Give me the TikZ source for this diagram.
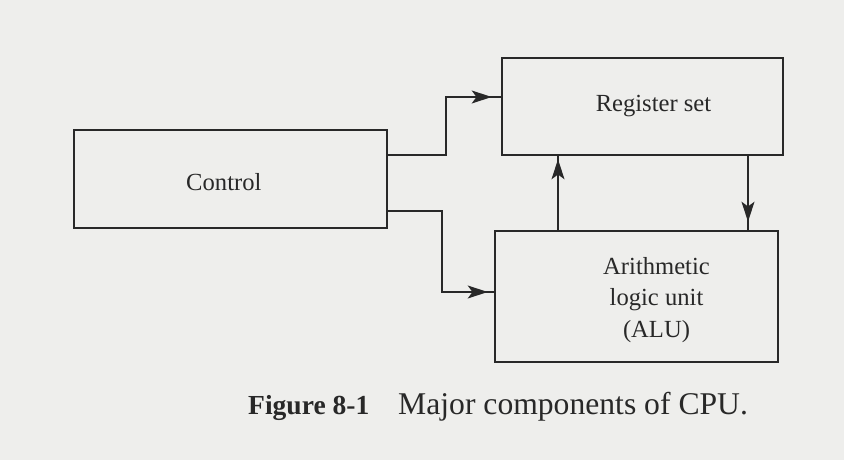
\documentclass[tikz,border=0pt]{standalone}
\usepackage{fontspec}
\setmainfont{Liberation Serif}
\usetikzlibrary{arrows.meta,decorations.markings}
\definecolor{paper}{RGB}{238,238,236}
\definecolor{ink}{RGB}{40,40,40}
\tikzset{
  box/.style={draw=ink, line width=2.2pt, rectangle, inner sep=0pt},
  boxtext/.style={align=center, font=\fontsize{21}{27}\selectfont, text=ink, inner sep=0pt},
  conn/.style={draw=ink, line width=1.9pt},
  arrowat/.style={postaction={decorate}, decoration={markings,
    mark=at position #1 with {\arrow{Stealth[length=17pt,width=11pt,inset=4pt]}}}}
}
\begin{document}
\begin{tikzpicture}[x=0.03cm,y=-0.03cm]
\useasboundingbox[fill=paper] (0,0) rectangle (844,460);
\node[box, minimum width=9.39cm, minimum height=2.94cm,
  label={[boxtext, xshift=-0.2cm, yshift=-0.08cm]center:Control}] (ctrl) at (230.5,179) {};
\node[box, minimum width=8.43cm, minimum height=2.91cm,
  label={[boxtext, xshift=0.33cm]center:Register set}] (reg) at (642.5,106.5) {};
\node[box, minimum width=8.49cm, minimum height=3.93cm,
  label={[boxtext, xshift=0.6cm, yshift=-0.1cm]center:Arithmetic\\logic unit\\(ALU)}] (alu) at (636.5,296.5) {};
\draw[conn, arrowat=-0.27cm] ([yshift=0.72cm]ctrl.east) -- ++(58,0) |- ([yshift=0.285cm]reg.west);
\draw[conn, arrowat=-0.18cm] ([yshift=-0.96cm]ctrl.east) -- ++(54,0) |- ([yshift=0.135cm]alu.west);
\draw[conn, arrowat=-0.09cm] (alu.north -| 558,0) -- (reg.south -| 558,0);
\draw[conn, arrowat=-0.24cm] (reg.south -| 748,0) -- (alu.north -| 748,0);
\node[anchor=base west, inner sep=0pt, text=ink, font=\fontsize{23.5}{28}\selectfont\bfseries] (fig) at (248,414) {Figure 8-1};
\node[anchor=base west, inner sep=0pt, text=ink, font=\fontsize{27}{32}\selectfont] (cap) at (398,414) {Major components of CPU.};
\end{tikzpicture}
\end{document}
